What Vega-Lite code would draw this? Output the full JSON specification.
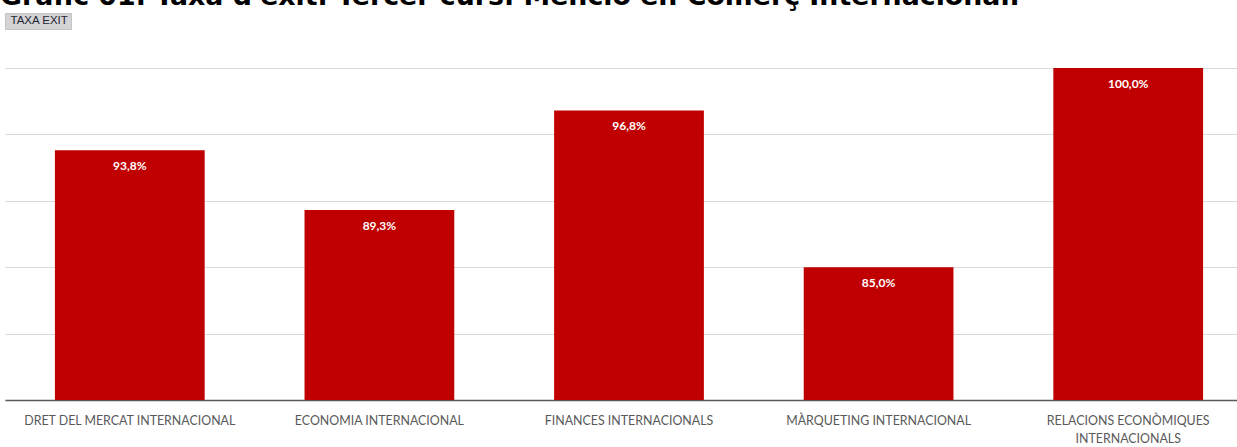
{
  "$schema": "https://vega.github.io/schema/vega-lite/v6.json",
  "autosize": {"type": "none"},
  "width": 1248,
  "height": 332,
  "padding": {"left": 5, "top": 68, "right": 0, "bottom": 47},
  "background": "white",
  "title": {
    "text": "Gràfic 01. Taxa d'èxit. Tercer curs. Menció en Comerç Internacional.",
    "anchor": "start",
    "frame": "group",
    "baseline": "alphabetic",
    "offset": 1,
    "dx": -5,
    "dy": 20.8,
    "font": "DejaVu Sans",
    "fontSize": 26.8,
    "fontWeight": "bold",
    "color": "#000000"
  },
  "config": {
    "locale": {"number": {"decimal": ",", "thousands": ".", "grouping": [3], "currency": ["", " €"]}},
    "view": {"stroke": null}
  },
  "data": {
    "values": [
      {"assignatura": "DRET DEL MERCAT INTERNACIONAL", "taxa": 0.938, "serie": "TAXA EXIT"},
      {"assignatura": "ECONOMIA INTERNACIONAL", "taxa": 0.893, "serie": "TAXA EXIT"},
      {"assignatura": "FINANCES INTERNACIONALS", "taxa": 0.968, "serie": "TAXA EXIT"},
      {"assignatura": "MÀRQUETING INTERNACIONAL", "taxa": 0.85, "serie": "TAXA EXIT"},
      {"assignatura": "RELACIONS ECONÒMIQUES INTERNACIONALS", "taxa": 1.0, "serie": "TAXA EXIT"}
    ]
  },
  "encoding": {
    "x": {
      "field": "assignatura",
      "type": "nominal",
      "sort": null,
      "scale": {"paddingInner": 0.4, "paddingOuter": 0.2},
      "axis": {
        "title": null,
        "labelAngle": 0,
        "labelFont": "Lato",
        "labelFontSize": 12.4,
        "labelColor": "#595959",
        "labelPadding": 14,
        "labelLineHeight": 18,
        "labelLimit": 300,
        "ticks": false,
        "domainColor": "#595959",
        "domainWidth": 1.5,
        "labelExpr": "datum.value == 'RELACIONS ECONÒMIQUES INTERNACIONALS' ? ['RELACIONS ECONÒMIQUES', 'INTERNACIONALS'] : datum.value"
      }
    },
    "y": {
      "field": "taxa",
      "type": "quantitative",
      "scale": {"domain": [0.75, 1.0], "nice": false, "zero": false},
      "axis": {
        "title": null,
        "labels": false,
        "ticks": false,
        "domain": false,
        "values": [0.75, 0.8, 0.85, 0.9, 0.95, 1.0],
        "gridColor": "#d9d9d9",
        "gridWidth": 1
      }
    }
  },
  "layer": [
    {
      "mark": {"type": "bar", "clip": true},
      "encoding": {
        "color": {
          "field": "serie",
          "type": "nominal",
          "scale": {"range": ["#c00000"]},
          "legend": {
            "title": null,
            "orient": "none",
            "legendX": 0,
            "legendY": -55,
            "fillColor": "#d4d4d4",
            "strokeColor": "#c4c4c4",
            "padding": 2,
            "symbolSize": 0,
            "symbolOpacity": 0,
            "symbolStrokeWidth": 0,
            "labelOffset": -8,
            "labelFont": "Liberation Sans",
            "labelFontSize": 11.5,
            "labelColor": "#1f2533"
          }
        }
      }
    },
    {
      "mark": {"type": "text", "baseline": "top", "dy": 11, "color": "white", "font": "Lato", "fontSize": 12, "fontWeight": "bold"},
      "encoding": {
        "text": {"field": "taxa", "type": "quantitative", "format": ".1%"}
      }
    }
  ]
}
